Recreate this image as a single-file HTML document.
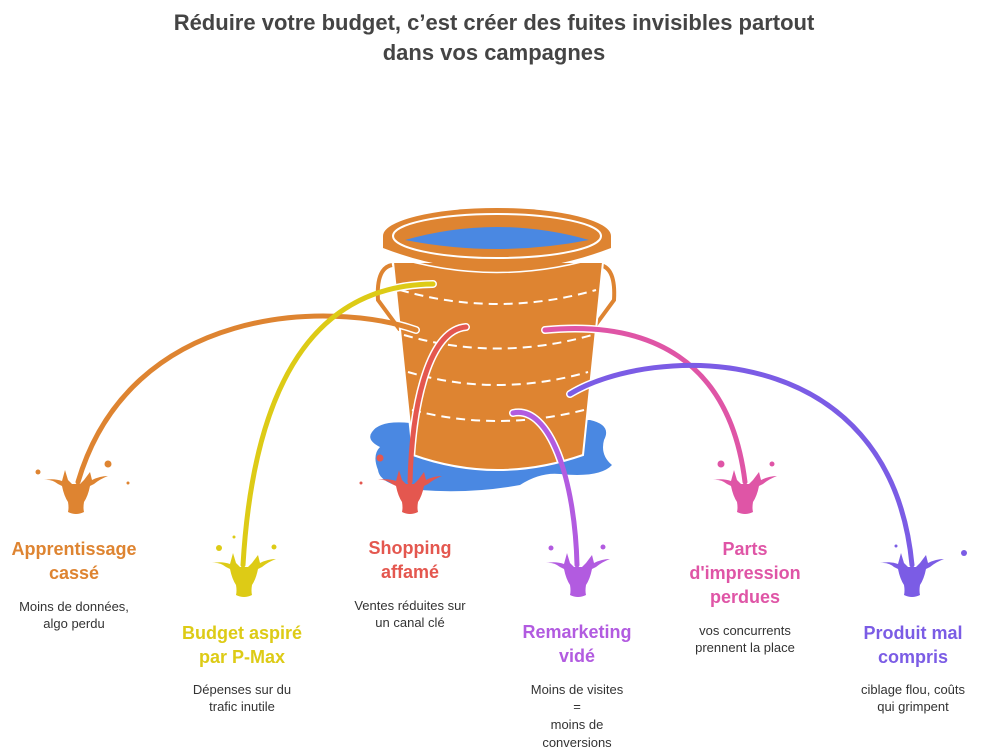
<!DOCTYPE html>
<html><head><meta charset="utf-8"><style>
body{margin:0;background:#fff;width:988px;height:754px;overflow:hidden;font-family:"Liberation Sans",sans-serif}
svg{position:absolute;left:0;top:0}
.t{font-weight:bold;font-size:18px;text-anchor:middle}
.d{font-size:13px;fill:#333;text-anchor:middle}
</style></head><body>
<svg width="988" height="754" viewBox="0 0 988 754">
<defs>
<g id="sp">
<path d="M-32,-8 Q-24,-9 -18,-4 L-14,-2 Q-12,8 -8,14 Q-7,20 -8,24 Q0,28 8,24 Q7,20 8,14 Q12,8 14,-2 L18,-4 Q24,-9 32,-12 Q24,-12 16,-8 L14,-16 L8,-8 L4,-4 L-4,-4 L-8,-8 L-11,-18 L-14,-7 Q-22,-10 -32,-8 Z"/>
</g>
<clipPath id="bk"><path d="M393,262 L603,262 L583,455 Q497,485 413,455 Z"/></clipPath>
</defs>
<text x="494" y="30" font-size="22" font-weight="bold" fill="#444" text-anchor="middle">Réduire votre budget, c’est créer des fuites invisibles partout</text>
<text x="494" y="60" font-size="22" font-weight="bold" fill="#444" text-anchor="middle">dans vos campagnes</text>
<path d="M372,432 Q380,420 410,423 L590,420 Q612,425 604,440 Q600,455 612,465 Q600,478 560,474 Q540,472 520,485 Q470,494 420,490 Q380,486 378,470 Q372,455 380,447 Q366,440 372,432 Z" fill="#4A88E2"/>
<path d="M392,265 Q376,268 378,300 L400,330" fill="none" stroke="#DE8431" stroke-width="4"/>
<path d="M600,265 Q616,268 614,300 L592,330" fill="none" stroke="#DE8431" stroke-width="4"/>
<path d="M393,262 L603,262 L583,455 Q497,485 413,455 Z" fill="#DE8431" stroke="#fff" stroke-width="2"/>
<g fill="none" stroke="#fff" stroke-width="2" stroke-dasharray="9,6">
<path d="M400,290 Q497,318 596,290"/>
<path d="M404,335 Q497,362 592,335"/>
<path d="M408,372 Q497,398 588,372"/>
<path d="M412,410 Q497,432 584,410"/>
</g>
<ellipse cx="497" cy="236" rx="114" ry="28" fill="#DE8431"/>
<path d="M383,236 L383,248 Q497,292 611,248 L611,236" fill="#DE8431"/>
<ellipse cx="497" cy="236" rx="104" ry="22" fill="none" stroke="#fff" stroke-width="2"/>
<path d="M405,240 Q497,214 589,240 Q497,258 405,240 Z" fill="#4A88E2"/>
<path d="M388,255 Q497,290 606,255" fill="none" stroke="#fff" stroke-width="1.5"/>
<g fill="none" stroke-width="8" stroke-linecap="round" stroke="#fff" clip-path="url(#bk)">
<path d="M416,330 C330,300 130,305 78,482"/>
<path d="M433,284 C330,285 255,360 243,565"/>
<path d="M466,327 C430,330 412,400 410,482"/>
<path d="M513,413 C550,405 575,480 577,565"/>
<path d="M545,330 C650,320 730,360 745,482"/>
<path d="M570,394 C650,345 890,335 912,565"/>
</g>
<g fill="none" stroke-width="5" stroke-linecap="round">
<path d="M416,330 C330,300 130,305 78,482" stroke="#DE8431"/>
<path d="M433,284 C330,285 255,360 243,565" stroke="#DDCB16"/>
<path d="M466,327 C430,330 412,400 410,482" stroke="#E4574F"/>
<path d="M513,413 C550,405 575,480 577,565" stroke="#B25BE0"/>
<path d="M545,330 C650,320 730,360 745,482" stroke="#DF55A6"/>
<path d="M570,394 C650,345 890,335 912,565" stroke="#7B5CE5"/>
</g>
<g fill="#DE8431"><use href="#sp" x="76" y="488"/><circle cx="38" cy="472" r="2.5"/><circle cx="108" cy="464" r="3.5"/><circle cx="128" cy="483" r="1.5"/></g>
<g fill="#DDCB16"><use href="#sp" x="244" y="571"/><circle cx="219" cy="548" r="3"/><circle cx="274" cy="547" r="2.5"/><circle cx="234" cy="537" r="1.5"/></g>
<g fill="#E4574F"><use href="#sp" x="410" y="488"/><circle cx="380" cy="458" r="3.5"/><circle cx="361" cy="483" r="1.5"/></g>
<g fill="#B25BE0"><use href="#sp" x="578" y="571"/><circle cx="551" cy="548" r="2.5"/><circle cx="603" cy="547" r="2.5"/></g>
<g fill="#DF55A6"><use href="#sp" x="745" y="488"/><circle cx="721" cy="464" r="3.5"/><circle cx="772" cy="464" r="2.5"/></g>
<g fill="#7B5CE5"><use href="#sp" x="912" y="571"/><circle cx="964" cy="553" r="3"/><circle cx="896" cy="546" r="1.5"/></g>
<g fill="#DE8431"><text class="t" x="74" y="555">Apprentissage</text><text class="t" x="74" y="579">cassé</text></g>
<text class="d" x="74" y="611">Moins de données,</text><text class="d" x="74" y="628">algo perdu</text>
<g fill="#DDCB16"><text class="t" x="242" y="639">Budget aspiré</text><text class="t" x="242" y="663">par P-Max</text></g>
<text class="d" x="242" y="694">Dépenses sur du</text><text class="d" x="242" y="711">trafic inutile</text>
<g fill="#E4574F"><text class="t" x="410" y="554">Shopping</text><text class="t" x="410" y="578">affamé</text></g>
<text class="d" x="410" y="610">Ventes réduites sur</text><text class="d" x="410" y="627">un canal clé</text>
<g fill="#B25BE0"><text class="t" x="577" y="638">Remarketing</text><text class="t" x="577" y="662">vidé</text></g>
<text class="d" x="577" y="694">Moins de visites</text><text class="d" x="577" y="711">=</text><text class="d" x="577" y="729">moins de</text><text class="d" x="577" y="747">conversions</text>
<g fill="#DF55A6"><text class="t" x="745" y="555">Parts</text><text class="t" x="745" y="579">d'impression</text><text class="t" x="745" y="603">perdues</text></g>
<text class="d" x="745" y="635">vos concurrents</text><text class="d" x="745" y="652">prennent la place</text>
<g fill="#7B5CE5"><text class="t" x="913" y="639">Produit mal</text><text class="t" x="913" y="663">compris</text></g>
<text class="d" x="913" y="694">ciblage flou, coûts</text><text class="d" x="913" y="711">qui grimpent</text>
</svg>
</body></html>
